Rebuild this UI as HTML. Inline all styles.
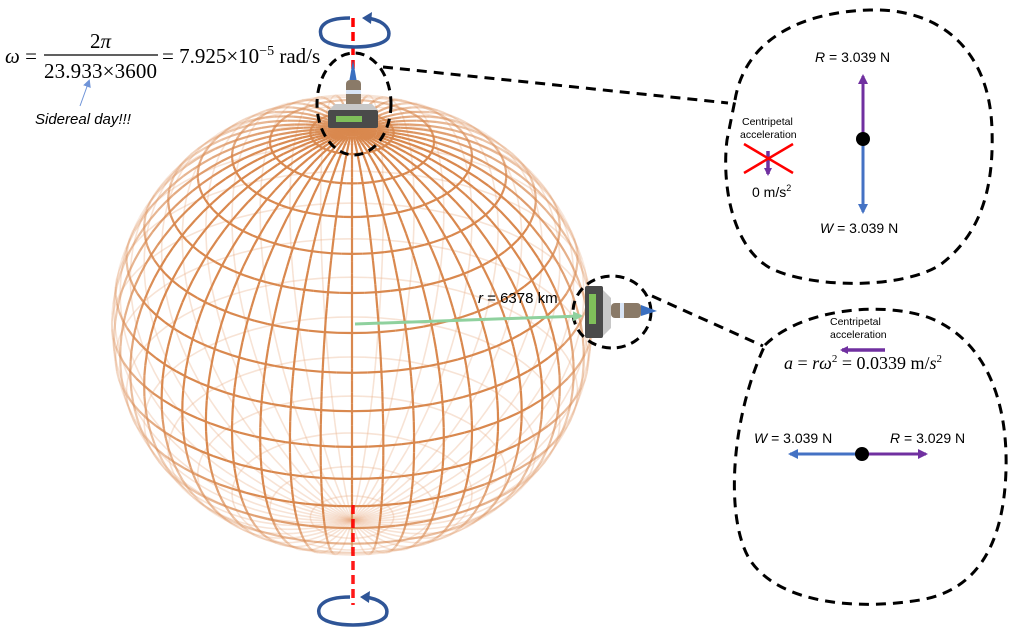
<!DOCTYPE html>
<html><head><meta charset="utf-8"><style>
html,body{margin:0;padding:0;background:#fff;width:1023px;height:635px;overflow:hidden}
svg{display:block}
text{font-family:"Liberation Sans",sans-serif}
.m{font-family:"Liberation Serif",serif}
</style></head><body>
<svg id="s" width="1023" height="635" viewBox="0 0 1023 635" xmlns="http://www.w3.org/2000/svg">
<defs>
<marker id="ap" markerWidth="8" markerHeight="8" refX="6" refY="4" orient="auto" markerUnits="userSpaceOnUse"><path d="M0,0 L8,4 L0,8 z" fill="#7030a0"/></marker>
<marker id="ab" markerWidth="10" markerHeight="10" refX="8" refY="5" orient="auto" markerUnits="userSpaceOnUse"><path d="M0,0 L10,5 L0,10 z" fill="#4472c4"/></marker>
<marker id="ap2" markerWidth="10" markerHeight="10" refX="8" refY="5" orient="auto" markerUnits="userSpaceOnUse"><path d="M0,0 L10,5 L0,10 z" fill="#7030a0"/></marker>
<marker id="ag" markerWidth="10" markerHeight="10" refX="8" refY="5" orient="auto" markerUnits="userSpaceOnUse"><path d="M0,0 L10,5 L0,10 z" fill="#8fd19e"/></marker>
<marker id="asb" markerWidth="8" markerHeight="8" refX="6" refY="4" orient="auto" markerUnits="userSpaceOnUse"><path d="M0,0 L8,4 L0,8 z" fill="#6f94d8"/></marker>
</defs>
<g id="back"></g>
<g id="front"></g>
<line x1="353" y1="18" x2="353" y2="128" stroke="#ff0000" stroke-width="3.5" stroke-dasharray="9,5"/>
<line x1="353" y1="505" x2="353" y2="605" stroke="#ff0000" stroke-width="3.5" stroke-dasharray="9,5" opacity="0.9"/>
<path d="M350,18 C320,18 318,30 322,38 C330,50 380,50 388,38 C392,28 382,20 367,18" fill="none" stroke="#2f5597" stroke-width="3.5"/>
<path d="M362,18 L372,12 L371,24 z" fill="#2f5597"/>
<path d="M350,597 C320,597 316,609 320,616 C328,628 378,628 386,616 C390,606 380,599 365,597" fill="none" stroke="#2f5597" stroke-width="3.5"/>
<path d="M360,597 L370,591 L369,603 z" fill="#2f5597"/>
<ellipse cx="354" cy="104" rx="37" ry="51" fill="none" stroke="#000" stroke-width="3" stroke-dasharray="9,6"/>
<path d="M348,88 L353,60 L358,88 z" fill="#3a6fc0"/>
<rect x="346" y="80" width="15" height="28" rx="4" fill="#8a7a68"/>
<rect x="346" y="90" width="15" height="4" fill="#d8e4f5"/>
<path d="M329,110 L335,104 L372,104 L378,110 z" fill="#c8c8c8"/>
<rect x="328" y="110" width="50" height="18" rx="2" fill="#4a4a4a"/>
<rect x="336" y="116" width="26" height="6" fill="#7fbf5a"/>
<ellipse cx="612" cy="312" rx="39" ry="36" fill="none" stroke="#000" stroke-width="3" stroke-dasharray="9,6"/>
<rect x="585" y="286" width="18" height="52" rx="2" fill="#4a4a4a"/>
<rect x="589" y="294" width="7" height="30" fill="#7fbf5a"/>
<path d="M603,290 L611,298 L611,328 L603,336 z" fill="#c8c8c8"/>
<rect x="611" y="303" width="30" height="15" rx="4" fill="#8a7a68"/>
<rect x="620" y="303" width="4" height="15" fill="#d8e4f5"/>
<path d="M641,305 L657,311 L641,316 z" fill="#3a6fc0"/>
<line x1="355" y1="324" x2="581" y2="316" stroke="#8fd19e" stroke-width="3" marker-end="url(#ag)"/>
<text x="478" y="303" font-size="15"><tspan font-style="italic">r</tspan> = 6378 km</text>
<path d="M383,67 L728,103" fill="none" stroke="#000" stroke-width="3" stroke-dasharray="10,7"/>
<path d="M652,296 L763,346" fill="none" stroke="#000" stroke-width="3" stroke-dasharray="10,7"/>
<path d="M735,100 C745,40 800,12 870,10 C940,8 990,50 992,130 C994,190 980,235 940,265 C900,290 810,288 770,268 C730,245 722,180 727,140 Z" fill="none" stroke="#000" stroke-width="3" stroke-dasharray="10,7"/>
<path d="M765,345 C800,310 880,300 930,318 C985,340 1008,400 1006,470 C1004,540 980,590 920,600 C860,610 780,605 750,560 C725,520 730,420 765,345 Z" fill="none" stroke="#000" stroke-width="3" stroke-dasharray="10,7"/>
<text x="815" y="62" font-size="14"><tspan font-style="italic">R</tspan> = 3.039 N</text>
<line x1="863" y1="138" x2="863" y2="76" stroke="#7030a0" stroke-width="3" marker-end="url(#ap2)"/>
<line x1="863" y1="140" x2="863" y2="212" stroke="#4472c4" stroke-width="3" marker-end="url(#ab)"/>
<circle cx="863" cy="139" r="7" fill="#000"/>
<text x="820" y="233" font-size="14"><tspan font-style="italic">W</tspan> = 3.039 N</text>
<text x="742" y="125" font-size="10.5">Centripetal</text>
<text x="740" y="138" font-size="10.5">acceleration</text>
<line x1="768" y1="151" x2="768" y2="174" stroke="#7030a0" stroke-width="3.5" marker-end="url(#ap)"/>
<line x1="744" y1="144" x2="793" y2="173" stroke="#ff0000" stroke-width="2.5"/>
<line x1="744" y1="173" x2="793" y2="144" stroke="#ff0000" stroke-width="2.5"/>
<text x="752" y="197" font-size="14">0 m/s<tspan font-size="9" dy="-6">2</tspan></text>
<text x="830" y="325" font-size="10.5">Centripetal</text>
<text x="830" y="338" font-size="10.5">acceleration</text>
<line x1="885" y1="350" x2="842" y2="350" stroke="#7030a0" stroke-width="3.5" marker-end="url(#ap)"/>
<text x="784" y="369" font-size="18" class="m"><tspan font-style="italic">a</tspan> = <tspan font-style="italic">rω</tspan><tspan font-size="11" dy="-7">2</tspan><tspan dy="7"> = 0.0339 m/</tspan><tspan font-style="italic">s</tspan><tspan font-size="11" dy="-7">2</tspan></text>
<text x="754" y="443" font-size="14"><tspan font-style="italic">W</tspan> = 3.039 N</text>
<text x="890" y="443" font-size="14"><tspan font-style="italic">R</tspan> = 3.029 N</text>
<line x1="862" y1="454" x2="790" y2="454" stroke="#4472c4" stroke-width="3" marker-end="url(#ab)"/>
<line x1="864" y1="454" x2="926" y2="454" stroke="#7030a0" stroke-width="3" marker-end="url(#ap2)"/>
<circle cx="862" cy="454" r="7" fill="#000"/>
<text x="5" y="63" font-size="21" class="m"><tspan font-style="italic">ω</tspan> =</text>
<text x="90" y="48" font-size="21" class="m">2<tspan font-style="italic">π</tspan></text>
<line x1="44" y1="55" x2="158" y2="55" stroke="#000" stroke-width="1.3"/>
<text x="44" y="78" font-size="21" class="m" textLength="113">23.933×3600</text>
<text x="162" y="63" font-size="21" class="m">= 7.925×10<tspan font-size="14" dy="-8">−5</tspan><tspan dy="8"> rad/s</tspan></text>
<line x1="80" y1="106" x2="89" y2="81" stroke="#6f94d8" stroke-width="1" marker-end="url(#asb)"/>
<text x="35" y="124" font-size="15" font-style="italic">Sidereal day!!!</text>
</svg>
<script>
(function(){
var cx=352,cy=325,R=240,Ry=230,t=32*Math.PI/180,ct=Math.cos(t),st=Math.sin(t);
function P(lat,lon){var x=Math.cos(lat)*Math.sin(lon),y=Math.sin(lat),z=Math.cos(lat)*Math.cos(lon);
var yp=y*ct-z*st,zp=y*st+z*ct;return [cx+R*x,cy-Ry*yp,zp];}
var back=document.getElementById('back'),front=document.getElementById('front'),ns='http://www.w3.org/2000/svg';
function seg(a,b){var z=(a[2]+b[2])/2;var l=document.createElementNS(ns,'line');
l.setAttribute('x1',a[0].toFixed(1));l.setAttribute('y1',a[1].toFixed(1));l.setAttribute('x2',b[0].toFixed(1));l.setAttribute('y2',b[1].toFixed(1));
if(z>=0){l.setAttribute('stroke','#d9884e');l.setAttribute('stroke-width','2.2');l.setAttribute('opacity',(0.15+0.85*Math.min(1,z*1.8)).toFixed(2));front.appendChild(l);}
else{l.setAttribute('stroke','#eab08a');l.setAttribute('stroke-width','1.6');l.setAttribute('opacity','0.35');back.appendChild(l);}}
var d=Math.PI/180,N=60;
for(var lo=0;lo<360;lo+=7.5){var prev=null;for(var i=0;i<=N;i++){var la=(-90+180*i/N)*d;var p=P(la,lo*d);if(prev)seg(prev,p);prev=p;}}
for(var la=-80;la<=80;la+=10){var prev=null;for(var i=0;i<=90;i++){var p=P(la*d,i*4*d);if(prev)seg(prev,p);prev=p;}}
})();
</script>
</body></html>
